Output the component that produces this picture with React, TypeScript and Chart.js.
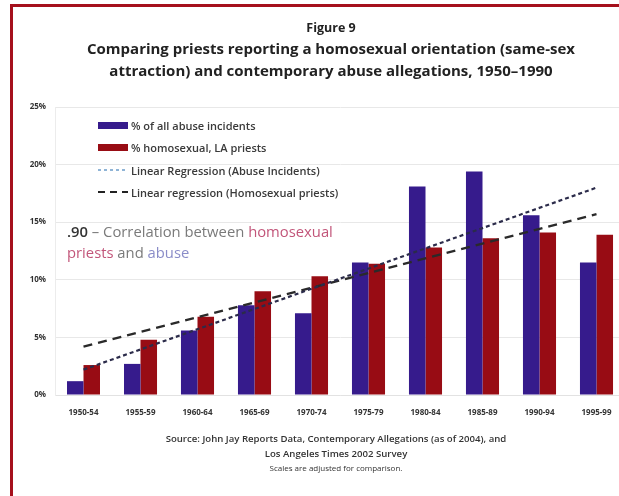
import React, { useEffect, useRef } from "react";
import { Chart, registerables } from "chart.js";

Chart.register(...registerables);

const categories = ["1950-54", "1955-59", "1960-64", "1965-69", "1970-74", "1975-79", "1980-84", "1985-89", "1990-94", "1995-99"];
const abuseIncidents = [1.2, 2.7, 5.6, 7.8, 7.1, 11.5, 18.1, 19.4, 15.6, 11.5];
const homosexualPriests = [2.6, 4.8, 6.8, 9.0, 10.3, 11.4, 12.8, 13.6, 14.1, 13.9];
const abuseTrend = [2.2, null, null, null, null, null, null, null, null, 18.0];
const homosexualTrend = [4.2, null, null, null, null, null, null, null, null, 15.7];
const yTicks = [0, 5, 10, 15, 20, 25];

const titleLines = [
  "Figure 9",
  "Comparing priests reporting a homosexual orientation (same-sex",
  "attraction) and contemporary abuse allegations, 1950–1990",
];
const sourceLines = [
  "Source: John Jay Reports Data, Contemporary Allegations (as of 2004), and",
  "Los Angeles Times 2002 Survey",
  "Scales are adjusted for comparison.",
];
const legendLabels = [
  "% of all abuse incidents",
  "% homosexual, LA priests",
  "Linear Regression (Abuse Incidents)",
  "Linear regression (Homosexual priests)",
];

const BLUE = "#361b8c";
const RED = "#980c14";
const FONT = "'Open Sans', 'DejaVu Sans', sans-serif";
const CANVAS_W = 632;

export default function App() {
  const ref = useRef<HTMLCanvasElement | null>(null);

  useEffect(() => {
    if (!ref.current) return;
    const chart = new Chart(ref.current, {
      type: "bar",
      data: {
        labels: categories,
        datasets: [
          {
            type: "line",
            label: legendLabels[2],
            data: abuseTrend,
            borderColor: "#2b2b4a",
            borderWidth: 2.2,
            borderDash: [4, 3],
            pointRadius: 0,
            spanGaps: true,
            fill: false,
            order: 0,
          },
          {
            type: "line",
            label: legendLabels[3],
            data: homosexualTrend,
            borderColor: "#2a2a2a",
            borderWidth: 2.4,
            borderDash: [9, 6],
            pointRadius: 0,
            spanGaps: true,
            fill: false,
            order: 0,
          },
          {
            type: "bar",
            label: legendLabels[0],
            data: abuseIncidents,
            backgroundColor: BLUE,
            categoryPercentage: 0.58,
            barPercentage: 1,
            order: 1,
          },
          {
            type: "bar",
            label: legendLabels[1],
            data: homosexualPriests,
            backgroundColor: RED,
            categoryPercentage: 0.58,
            barPercentage: 1,
            order: 1,
          },
        ],
      } as any,
      options: {
        animation: false,
        responsive: false,
        maintainAspectRatio: false,
        layout: { padding: { left: 22, right: 7, top: 107, bottom: 76 } },
        plugins: {
          legend: { display: false },
          title: { display: false },
          tooltip: { enabled: false },
        },
        scales: {
          x: {
            grid: { display: false },
            border: { display: true, color: "#e2e2e2" },
            ticks: {
              color: "#333",
              font: { family: FONT, size: 8, weight: "bold" },
              maxRotation: 0,
              autoSkip: false,
              padding: 5,
            },
            afterFit: (s: any) => {
              s.height = 25;
            },
          },
          y: {
            min: 0,
            max: 25,
            afterBuildTicks: (s: any) => {
              s.ticks = yTicks.map((v) => ({ value: v }));
            },
            grid: { color: "#e8e8e8", lineWidth: 1, drawTicks: false },
            border: { display: true, color: "#ececec" },
            ticks: {
              color: "#333",
              font: { family: FONT, size: 8, weight: "bold" },
              padding: 9,
              callback: (v: any) => `${v}%`,
            },
            afterFit: (s: any) => {
              s.width = 33;
            },
          },
        },
      } as any,
    });
    return () => chart.destroy();
  }, []);

  const swatchBar = (color: string) => (
    <div style={{ width: 30, height: 7, background: color }} />
  );
  const swatchLine = (color: string, dash: string, w: number) => (
    <svg width={30} height={8}>
      <line x1={0} y1={4} x2={30} y2={4} stroke={color} strokeWidth={w} strokeDasharray={dash} />
    </svg>
  );
  const swatches = [
    swatchBar(BLUE),
    swatchBar(RED),
    swatchLine("#8fb4d6", "3,3", 2),
    swatchLine("#222", "7,5", 2),
  ];
  const legendYs = [125, 147, 170, 192];

  return (
    <div
      style={{
        position: "absolute",
        left: 0,
        top: 0,
        width: 619,
        height: 496,
        overflow: "hidden",
        background: "#fff",
        fontFamily: FONT,
      }}
    >
      <canvas
        ref={ref}
        width={CANVAS_W}
        height={496}
        style={{ position: "absolute", left: 0, top: 0, width: CANVAS_W, height: 496 }}
      />
      <div
        style={{
          position: "absolute",
          left: 10,
          top: 4,
          width: 800,
          height: 800,
          borderTop: "3px solid #a5101c",
          borderLeft: "3px solid #a5101c",
          pointerEvents: "none",
        }}
      />
      {titleLines.map((t, i) => (
        <div
          key={t}
          style={{
            position: "absolute",
            left: 31,
            width: 600,
            top: [19, 39, 61][i],
            textAlign: "center",
            fontWeight: 700,
            fontSize: i === 0 ? 12.5 : 15,
            lineHeight: "18px",
            color: "#222",
            whiteSpace: "nowrap",
          }}
        >
          {t}
        </div>
      ))}
      {legendLabels.map((t, i) => (
        <div
          key={t}
          style={{
            position: "absolute",
            left: 98,
            top: legendYs[i] - 7,
            height: 14,
            display: "flex",
            alignItems: "center",
            gap: 3,
            whiteSpace: "nowrap",
          }}
        >
          {swatches[i]}
          <span style={{ fontSize: 11, fontWeight: 600, color: "#3a3a3a" }}>{t}</span>
        </div>
      ))}
      <div
        style={{
          position: "absolute",
          left: 67,
          top: 221,
          fontSize: 14.8,
          lineHeight: "21px",
          color: "#7a7a7a",
          whiteSpace: "nowrap",
        }}
      >
        <div>
          <span style={{ color: "#333", fontWeight: 600 }}>.90</span> – Correlation between{" "}
          <span style={{ color: "#c2567a" }}>homosexual</span>
        </div>
        <div>
          <span style={{ color: "#c2567a" }}>priests</span> and{" "}
          <span style={{ color: "#8a8cc8" }}>abuse</span>
        </div>
      </div>
      {sourceLines.map((t, i) => (
        <div
          key={t}
          style={{
            position: "absolute",
            left: 36,
            width: 600,
            top: [432, 447, 461][i],
            textAlign: "center",
            fontSize: i === 2 ? 8 : 9.6,
            fontWeight: i === 2 ? 400 : 600,
            lineHeight: "14px",
            color: "#333",
            whiteSpace: "nowrap",
          }}
        >
          {t}
        </div>
      ))}
    </div>
  );
}
